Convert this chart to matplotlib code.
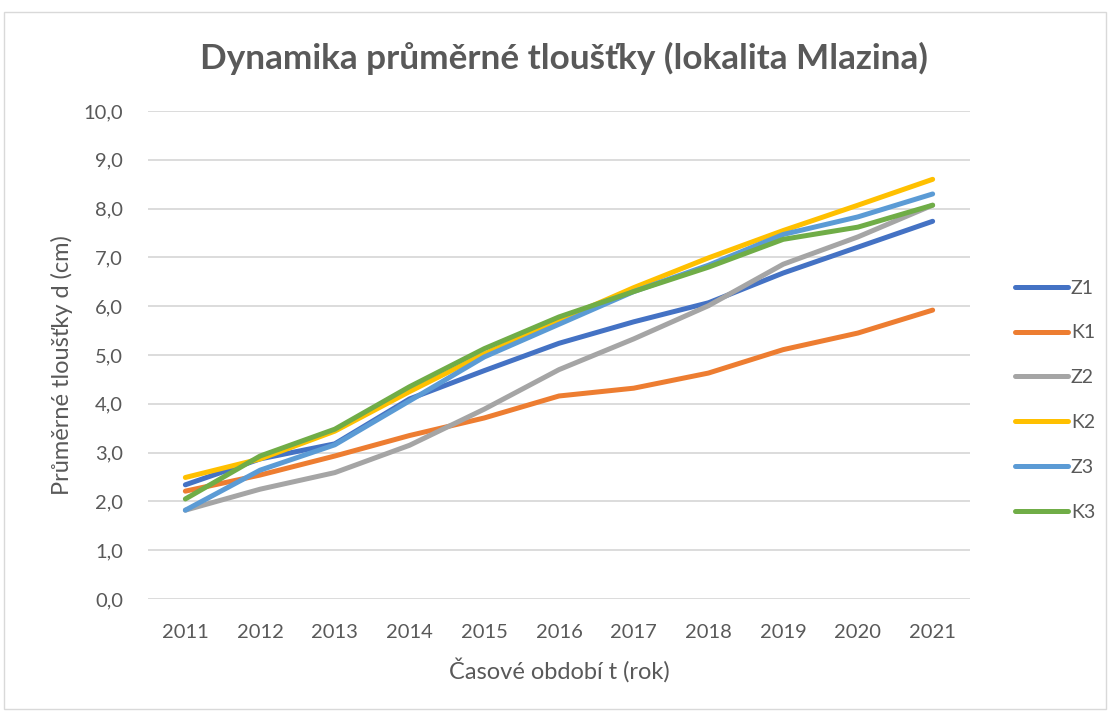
import matplotlib
matplotlib.use("Agg")
import matplotlib.pyplot as plt
from matplotlib.patches import Rectangle

years = ["2011", "2012", "2013", "2014", "2015", "2016", "2017", "2018", "2019", "2020", "2021"]
Z1 = [2.34, 2.87, 3.18, 4.10, 4.68, 5.24, 5.68, 6.07, 6.68, 7.21, 7.74]
K1 = [2.21, 2.54, 2.93, 3.35, 3.71, 4.16, 4.32, 4.63, 5.11, 5.45, 5.92]
Z2 = [1.82, 2.25, 2.59, 3.15, 3.89, 4.70, 5.33, 6.01, 6.86, 7.42, 8.07]
K2 = [2.49, 2.87, 3.44, 4.25, 5.02, 5.71, 6.38, 6.99, 7.55, 8.07, 8.60]
Z3 = [1.82, 2.64, 3.16, 4.06, 4.96, 5.63, 6.30, 6.84, 7.47, 7.83, 8.30]
K3 = [2.05, 2.93, 3.48, 4.35, 5.13, 5.78, 6.30, 6.80, 7.37, 7.62, 8.07]
series_names = ["Z1", "K1", "Z2", "K2", "Z3", "K3"]
series_values = [Z1, K1, Z2, K2, Z3, K3]
colors = ["#4472C4", "#ED7D31", "#A5A5A5", "#FFC000", "#5B9BD5", "#70AD47"]
yticks = [0, 1, 2, 3, 4, 5, 6, 7, 8, 9, 10]

plt.rcParams["font.family"] = ["Lato", "DejaVu Sans"]
TXT = "#595959"

W, H = 1108, 711
fig = plt.figure(figsize=(W / 100, H / 100), dpi=100)
fig.patch.set_facecolor("white")
fig.patches.append(Rectangle((4 / W, 2 / H), 1102 / W, (H - 14) / H, transform=fig.transFigure,
                             fill=False, edgecolor="#D9D9D9", linewidth=1))

ax = fig.add_axes([148 / W, (H - 599) / H, 822 / W, 488 / H])
x = list(range(len(years)))
for name, vals, c in zip(series_names, series_values, colors):
    ax.plot(x, vals, color=c, linewidth=3.6, label=name, solid_capstyle="round", solid_joinstyle="round")

ax.set_xlim(-0.5, len(years) - 0.5)
ax.set_ylim(0, 10)
ax.set_yticks(yticks)
ax.set_yticklabels([f"{v:.1f}".replace(".", ",") for v in yticks])
ax.set_xticks(x)
ax.set_xticklabels(years)
ax.grid(axis="y", color="#D9D9D9", linewidth=1.3)
ax.set_axisbelow(True)
for s in ax.spines.values():
    s.set_visible(False)
ax.tick_params(length=0, labelsize=14.5, colors=TXT)
ax.tick_params(axis="x", pad=18)
ax.tick_params(axis="y", pad=18)

fig.text(559 / W, 1 - 670 / H, "Časové období t (rok)", ha="center", va="center", fontsize=17, color=TXT)
fig.text(62 / W, 1 - 365 / H, "Průměrné tloušťky d (cm)", ha="center", va="center", fontsize=17,
         color=TXT, rotation=90)

fig.text(564 / W, 1 - 58 / H, "Dynamika průměrné tloušťky (lokalita Mlazina)", ha="center", va="center",
         fontsize=25.3, fontweight="bold", color=TXT)

leg = fig.legend(loc="upper left", bbox_to_anchor=(997 / W, 1 - 262 / H), frameon=False,
                 fontsize=14, labelspacing=1.43, handlelength=2.75, handletextpad=0.15)
for t in leg.get_texts():
    t.set_color(TXT)

fig.savefig("out.png", dpi=100, facecolor="white")
